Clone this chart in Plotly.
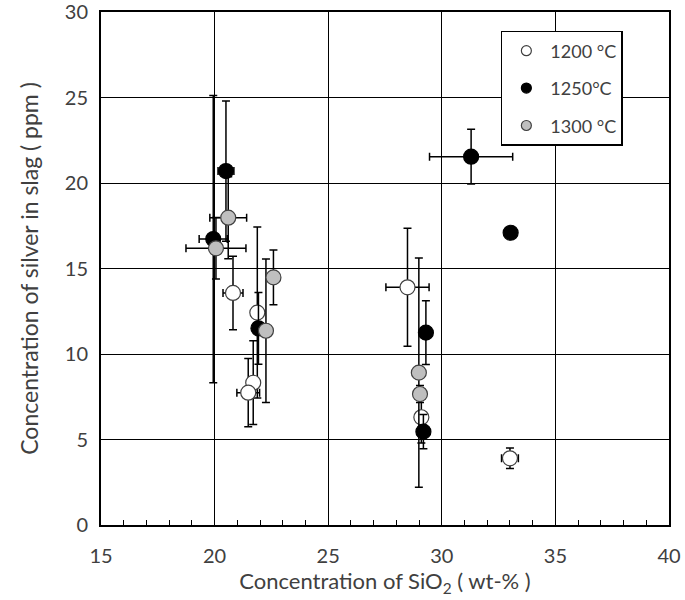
import plotly.graph_objects as go

# 1200 °C (open circles)
white_x = [20.81, 21.88, 21.70, 21.48, 28.49, 29.10, 33.00]
white_y = [13.57, 12.42, 8.32, 7.74, 13.90, 6.30, 3.90]
white_xerr = [0.44, 0.20, 0.20, 0.50, 0.95, 0.15, 0.37]
white_yerr = [2.15, 5.00, 2.45, 2.00, 3.45, 1.50, 0.60]

# 1250 °C (filled black)
black_x = [19.94, 20.50, 21.93, 31.29, 33.03, 29.30, 29.19]
black_y = [16.72, 20.70, 11.50, 21.54, 17.09, 11.25, 5.46]
black_xerr = [0.62, 0.35, 0.15, 1.83, 0.20, 0.15, 0.25]
black_yerr = [8.40, 4.10, 2.10, 1.60, 0.20, 1.87, 1.00]

# 1300 °C (grey)
gray_x = [20.06, 20.60, 22.26, 22.59, 28.99, 29.04]
gray_y = [16.18, 17.97, 11.36, 14.48, 8.91, 7.66]
gray_xerr = [1.32, 0.81, 0.15, 0.15, 0.10, 0.15]
gray_yerr = [1.80, 2.40, 4.20, 1.60, 6.70, 0.50]

series = [
    ("1200 °C", white_x, white_y, white_xerr, white_yerr, "white", "#404040"),
    ("1250°C", black_x, black_y, black_xerr, black_yerr, "black", "black"),
    ("1300 °C", gray_x, gray_y, gray_xerr, gray_yerr, "#bfbfbf", "#404040"),
]

fig = go.Figure()
for i, (name, xs, ys, xe, ye, fill, edge) in enumerate(series):
    fig.add_trace(go.Scatter(
        x=xs, y=ys, mode="markers", name=name, showlegend=False,
        marker=dict(size=15, color=fill, line=dict(color=edge, width=1.2)),
        error_x=dict(type="data", array=xe, color="black", thickness=1.5, width=4),
        error_y=dict(type="data", array=ye, color="black", thickness=1.5, width=4),
    ))
# legend-only entries with smaller markers
for i, (name, xs, ys, xe, ye, fill, edge) in enumerate(series):
    fig.add_trace(go.Scatter(
        x=[None], y=[None], mode="markers", name=name, legendgroup=str(i),
        marker=dict(size=10, color=fill, line=dict(color=edge, width=1.2)),
    ))

font_family = "Lato, 'Open Sans', sans-serif"
fig.update_layout(
    width=685, height=600,
    margin=dict(l=101, r=16, t=12, b=75, autoexpand=False),
    paper_bgcolor="white", plot_bgcolor="white",
    font=dict(family=font_family, color="#404040", size=16),
    showlegend=True,
    legend=dict(
        x=0.704, y=0.963, xanchor="left", yanchor="top",
        bordercolor="black", borderwidth=1.5, bgcolor="white",
        font=dict(size=18, color="#404040"),
        tracegroupgap=11, itemwidth=38,
    ),
)
fig.update_xaxes(
    range=[15, 40], dtick=5, tick0=15, automargin=False,
    showgrid=True, gridcolor="black", gridwidth=1,
    showline=True, linecolor="black", linewidth=2, mirror=True,
    ticks="inside", ticklen=6, tickcolor="black",
    minor=dict(dtick=1, ticks="inside", ticklen=5, tickcolor="black", showgrid=False),
    zeroline=False, ticklabelstandoff=12, ticklabeloverflow="allow",
    tickfont=dict(size=20, color="#404040"),
    title=dict(text="Concentration of SiO<sub>2</sub> ( wt-% )", font=dict(size=22, color="#404040"), standoff=7),
)
fig.update_yaxes(
    range=[0, 30], dtick=5, automargin=False,
    showgrid=True, gridcolor="black", gridwidth=1,
    showline=True, linecolor="black", linewidth=2, mirror=True,
    ticks="", zeroline=False, ticklabelstandoff=7, ticklabeloverflow="allow",
    tickfont=dict(size=20, color="#404040"),
    title=dict(text="Concentration of silver in slag ( ppm )", font=dict(size=23, color="#404040"), standoff=20),
)

fig.write_html("out.html", config={"displayModeBar": False},
               post_script="document.body.style.margin='0';")
